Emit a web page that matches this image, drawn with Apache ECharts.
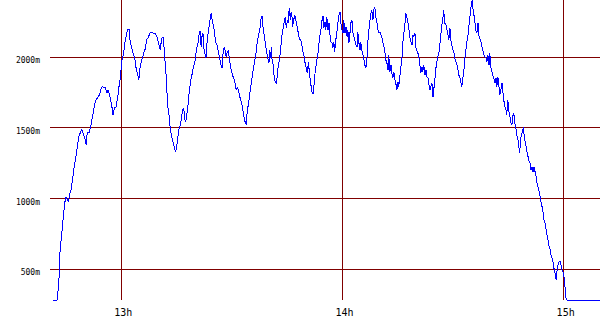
<!DOCTYPE html>
<html>
<head>
<meta charset="utf-8">
<script src="https://cdn.jsdelivr.net/npm/echarts@6/dist/echarts.min.js"></script>
<style>html,body{margin:0;padding:0;background:#fff}#c{width:600px;height:330px}#c svg path{shape-rendering:crispEdges}</style>
</head>
<body>
<div id="c"></div>
<script>
// time in minutes after 12:00, altitude in metres
const minutesAfterNoon = [
41.7,42.8,43.0,43.3,43.5,44.0,44.4,44.8,45.1,45.5,45.8,46.1,46.5,46.9,47.3,47.8,48.2,48.6,49.0,49.4,
49.9,50.2,50.6,50.9,51.4,51.9,52.3,52.8,53.2,53.7,54.2,54.7,55.0,55.5,55.8,56.2,56.6,57.1,57.6,57.9,
58.3,58.7,59.2,59.5,59.9,60.3,60.7,61.1,61.4,61.8,62.3,62.5,62.9,63.3,63.8,64.1,64.6,64.9,65.2,65.7,
66.1,66.5,
66.6,67.0,67.5,67.9,68.4,68.8,69.3,69.8,70.2,70.7,71.1,71.5,71.8,72.1,72.4,72.6,72.9,73.2,73.4,73.8,
74.2,74.5,74.9,75.2,75.5,75.7,76.0,76.3,76.5,76.8,77.1,77.3,77.6,77.9,78.2,78.4,78.7,79.0,79.3,79.7,
80.1,80.4,80.7,81.0,81.2,81.5,81.8,82.0,82.3,82.6,82.9,83.1,83.4,83.7,84.1,84.5,84.7,85.1,85.4,85.7,
86.1,86.5,86.8,87.2,87.5,87.8,88.1,88.4,88.6,88.9,89.2,89.4,89.7,90.1,90.4,90.8,91.1,91.3,91.7,92.0,
92.3,
92.8,93.1,93.4,93.8,94.1,94.2,94.5,94.9,95.2,95.6,95.9,96.3,96.7,97.0,97.4,97.8,98.0,98.3,98.5,98.8,
99.0,99.3,99.6,99.9,100.2,100.4,100.7,100.8,101.1,101.4,101.6,101.9,102.2,102.4,102.7,103.0,103.3,103.5,103.8,104.1,
104.4,104.6,104.9,105.2,105.4,105.7,106.0,106.2,106.4,106.6,106.9,107.2,107.4,107.6,107.9,108.1,108.4,108.7,109.0,109.2,
109.5,109.8,110.0,110.3,110.6,110.9,111.1,111.4,111.7,111.9,112.2,112.5,112.7,113.0,113.3,113.6,113.8,114.1,114.4,114.6,
114.9,115.1,115.4,115.6,115.9,116.2,116.5,116.7,117.0,117.3,117.5,117.8,118.0,
118.4,118.6,118.9,119.2,119.5,119.7,120.0,120.3,120.5,120.8,121.1,121.4,121.6,121.9,122.2,
122.4,122.7,123.0,123.3,123.5,123.8,124.1,124.3,124.6,124.9,
125.1,125.4,125.7,126.0,126.2,126.5,126.8,127.0,127.3,127.6,
127.9,128.1,128.4,128.7,128.9,129.2,129.5,129.8,130.0,130.3,
130.6,130.8,131.1,131.4,131.7,131.9,132.2,132.5,132.7,133.0,
133.3,133.6,133.8,134.1,134.4,134.6,134.9,135.2,135.4,135.7,
136.0,136.3,136.5,136.8,137.1,137.3,137.6,137.9,138.2,138.4,
138.7,139.0,139.2,139.5,139.8,140.0,140.3,140.6,140.9,141.1,
141.4,141.7,141.9,142.2,142.5,142.8,143.0,143.3,143.6,143.9,
144.1,144.4,144.7,144.9,145.2,145.5,145.7,146.0,146.3,146.6,
146.8,147.1,147.4,147.6,147.9,148.2,148.5,148.7,149.0,149.3,
149.5,149.8,150.1,150.4,150.6,150.9,151.2,151.4,151.7,152.0,
152.3,152.5,152.8,153.1,153.3,153.6,153.9,154.2,154.4,154.7,
155.0,155.2,155.4,
155.5,155.8,156.1,156.3,156.6,156.9,157.2,157.4,
157.7,158.0,158.2,158.5,158.8,159.1,159.3,159.6,159.9,160.1,
160.4,160.7,160.9,161.2,161.5,161.8,162.0,162.3,162.6,162.8,
163.1,163.4,163.7,163.9,164.2,164.5,164.7,165.0,165.3,165.6,
165.8,166.1,166.4,166.6,166.9,167.2,167.4,167.7,168.0,
168.2,168.5,168.8,169.0,169.2,169.4,169.7,169.9,170.2,170.5,
170.8,171.0,171.3,171.6,171.8,172.1,172.4,172.7,172.9,173.2,
173.5,173.8,174.0,174.3,174.6,174.8,175.1,175.4,175.6,175.9,
176.2,176.5,176.7,177.0,177.3,177.5,177.8,178.1,178.4,178.6,
178.9,179.2,179.4,179.7,180.0,180.2,180.5,180.7,181.0,190.0
];
const altitudeM = [
280,280,351,457,613,754,867,966,1009,988,973,1023,1058,1129,1214,1292,1363,1433,1462,1490,
1448,1433,1377,1462,1462,1518,1575,1646,1695,1709,1731,1780,1794,1780,1787,1745,1766,1717,1646,1589,
1639,1646,1717,1787,1858,1978,2014,2099,2141,2191,2198,2120,2070,2028,1993,1929,1872,1837,1922,1978,
2014,2056,
2049,2120,2141,2169,2177,2169,2169,2141,2106,2049,2134,2141,2049,1929,1837,1709,1610,1575,1497,1433,
1398,1363,1327,1370,1433,1483,1504,1540,1575,1625,1639,1568,1540,1589,1646,1717,1780,1837,1872,1929,
1964,2028,2070,2106,2155,2184,2070,2141,2169,2049,2014,1993,2099,2169,2240,2311,2276,2226,2177,2106,
2085,2035,1993,1943,1922,2049,2070,2035,2000,2035,2049,2000,1943,1893,1865,1837,1801,1766,1787,1752,
1717,
1674,1625,1575,1533,1518,1589,1646,1717,1780,1851,1908,1964,2028,2099,2155,2212,2261,2290,2226,2177,
2134,2085,2028,1993,1957,2049,1993,2070,1957,1943,1858,1823,1809,1858,1929,1978,2028,2099,2169,2212,
2261,2283,2205,2261,2240,2346,2261,2318,2311,2212,2261,2297,2283,2240,2205,2177,2134,2120,2106,2070,
2028,1993,1957,1922,1886,1964,1908,1837,1780,1745,1738,1823,1886,1943,1993,2049,2106,2169,2212,2261,
2290,2205,2247,2191,2283,2191,2240,2169,2106,2099,2063,2106,2035,
2134,2169,2240,2297,2318,2240,2191,2169,2261,2169,2212,2141,2191,2099,2177,
2240,2261,2169,2141,2120,2085,2070,2177,2099,2049,
2106,2049,2014,1978,1943,1922,2000,2099,2191,2261,
2318,2332,2261,2339,2353,2283,2240,2191,2169,2177,
2155,2141,2106,2070,2028,1978,1957,1908,2014,1893,
1943,1872,1851,1893,1837,1816,1766,1823,1787,1858,
1929,2000,2099,2169,2240,2311,2283,2240,2191,2141,
2106,2085,2155,2141,2169,2070,2049,2028,1993,1957,
1886,1929,1893,1943,1872,1908,1858,1858,1801,1766,
1787,1816,1717,1766,1837,1922,1964,2000,2028,2099,
2155,2226,2276,2332,2240,2226,2191,2169,2120,2205,
2120,2085,2049,2028,1993,1964,1943,1922,1872,1851,
1816,1787,1851,1908,1978,2049,2106,2155,2212,2283,
2353,2389,2403,
2346,2297,2240,2191,2169,2240,2141,2134,
2106,2070,2049,2014,2000,1993,1964,2014,1943,2028,
1922,1893,1872,1851,1816,1851,1787,1858,1787,1731,
1766,1816,1745,1695,1646,1625,1589,1695,1610,1575,
1533,1518,1589,1603,1533,1497,1448,1426,1363,
1320,1426,1462,1469,1504,1448,1398,1377,1327,1292,
1257,1249,1200,1221,1186,1221,1186,1150,1108,1080,
1044,1009,973,938,896,846,825,775,740,705,
655,634,598,577,542,506,471,421,506,528,
549,556,528,492,478,457,372,301,280,280
];
const xTickValues = [60, 120, 180];
const xTickLabels = ['13h', '14h', '15h'];
const yTickValues = [500, 1000, 1500, 2000];
const yTickLabels = ['500m', '1000m', '1500m', '2000m'];

const points = minutesAfterNoon.map((t, i) => [t, altitudeM[i]]);
const gridRed = '#800000';

const chart = echarts.init(document.getElementById('c'), null, {renderer: 'svg'});
chart.setOption({
  animation: false,
  backgroundColor: '#ffffff',
  grid: {left: 50, right: 0, top: 0, bottom: 30, containLabel: false},
  xAxis: {
    type: 'value', min: 40.8, max: 190,
    axisLine: {show: false},
    axisTick: {show: false, customValues: xTickValues},
    splitLine: {show: true, lineStyle: {color: gridRed, width: 1}},
    axisLabel: {
      customValues: xTickValues,
      formatter: v => xTickLabels[xTickValues.indexOf(v)],
      fontFamily: 'DejaVu Sans Mono', fontSize: 10, color: '#000',
      margin: 7, padding: [0, 0, 0, 5]
    }
  },
  yAxis: {
    type: 'value', min: 280, max: 2403,
    axisLine: {show: false},
    axisTick: {show: false, customValues: yTickValues},
    splitLine: {show: true, lineStyle: {color: gridRed, width: 1}},
    axisLabel: {
      customValues: yTickValues,
      formatter: v => yTickLabels[yTickValues.indexOf(v)],
      fontFamily: 'DejaVu Sans Mono', fontSize: 8, color: '#000',
      margin: 10, verticalAlign: 'top'
    }
  },
  series: [{
    type: 'line',
    data: points,
    showSymbol: false,
    clip: false,
    lineStyle: {color: '#0000ff', width: 1},
    z: 3
  }]
});
</script>
</body>
</html>
